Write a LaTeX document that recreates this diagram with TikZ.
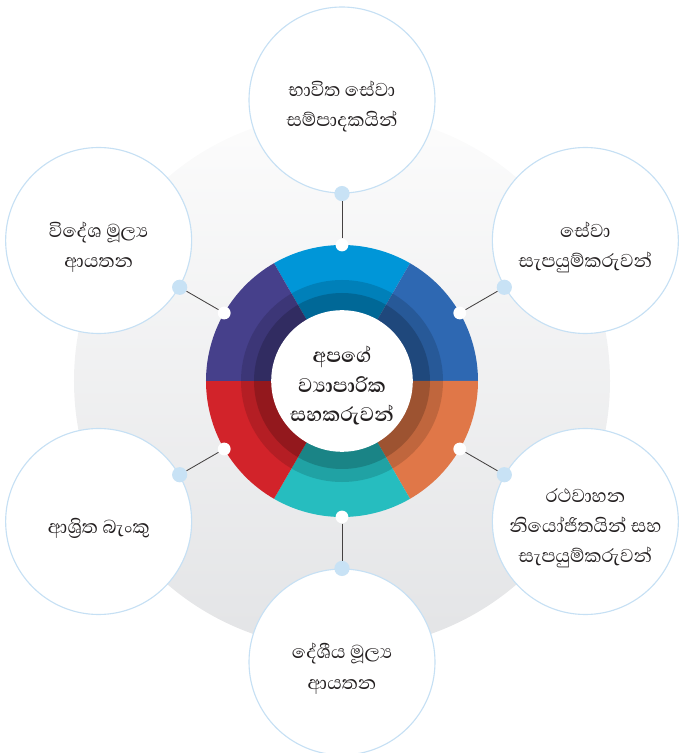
\documentclass[tikz,border=0pt]{standalone}
\usepackage{fontspec}
\newfontfamily\sinhala[Script=Sinhala]{Abhaya Libre}

\definecolor{segceleste}{HTML}{0096D8}
\definecolor{segazul}{HTML}{2E68B2}
\definecolor{segnaranja}{HTML}{E07748}
\definecolor{segturquesa}{HTML}{26BDBF}
\definecolor{segrojo}{HTML}{D2232A}
\definecolor{segmorado}{HTML}{46408B}
\definecolor{bordeazul}{HTML}{C6E0F4}
\definecolor{puntoceleste}{HTML}{C8E2F5}
\definecolor{fondoarriba}{HTML}{FCFCFC}
\definecolor{fondoabajo}{HTML}{E3E4E6}
\definecolor{tinta}{HTML}{231F20}

\begin{document}
\begin{tikzpicture}[
    socio/.style={circle, draw=bordeazul, line width=0.8pt, fill=white,
        minimum size=4.65cm, inner sep=0pt},
    textosocio/.style={align=center, text=tinta,
        font=\sinhala\fontsize{17}{21.5}\selectfont},
    puntoanillo/.style={circle, fill=white, minimum size=0.32cm, inner sep=0pt},
    puntoazul/.style={circle, fill=puntoceleste, minimum size=0.38cm, inner sep=0pt},
    conector/.style={draw=tinta!85, line width=0.6pt}
]

% ================================================================
%  Marco: 679 x 753 px, 1 px = 0.025 cm, origen en el centro del anillo
% ================================================================
\useasboundingbox (-8.55, -9.30) rectangle (8.425, 9.525);
\clip (-8.55, -9.30) rectangle (8.425, 9.525);

% Disco de fondo con degradado
\shade[top color=fondoarriba, bottom color=fondoabajo] (0, 0) circle (6.7);

% ================================================================
%  Circulos exteriores (socios), a 7.025 cm del centro
% ================================================================
\foreach \i/\ang in {1/90, 2/30, 3/-30, 4/-90, 5/-150, 6/150}{
    \node[socio] (s\i) at (\ang:7.025) {};
}

% Textos de cada socio (algo bajo el centro del circulo)
\node[textosocio] (t1) at ([yshift=-0.17cm]s1) {භාවිත සේවා\\සම්පාදකයින්};
\node[textosocio] (t2) at ([yshift=-0.17cm]s2) {සේවා\\සැපයුම්කරුවන්};
\node[textosocio] (t3) at ([yshift=-0.17cm]s3) {රථවාහන\\නියෝජිතයින් සහ\\සැපයුම්කරුවන්};
\node[textosocio] (t4) at ([yshift=-0.17cm]s4) {දේශීය මූල්^^^^200dය\\ආයතන};
\node[textosocio] (t5) at ([yshift=-0.17cm]s5) {ආශ්^^^^200dරිත බැංකු};
\node[textosocio] (t6) at ([yshift=-0.17cm]s6) {විදේශ මූල්^^^^200dය\\ආයතන};

% ================================================================
%  Anillo central — seis sectores de 60 grados, radio 3.4 cm
% ================================================================
\foreach \a/\col in {60/segceleste, 0/segazul, -60/segnaranja,
                     -120/segturquesa, 180/segrojo, 120/segmorado}{
    \fill[\col] (0, 0) -- (\a:3.4) arc[start angle=\a, end angle=\a+60, radius=3.4] -- cycle;
}

% Bandas oscuras interiores
\fill[black, opacity=0.14] (0, 0) circle (2.525);
\fill[black, opacity=0.18] (0, 0) circle (2.2);
\fill[white] (0, 0) circle (1.77);

% Titulo central
\node[font=\sinhala\bfseries\fontsize{18}{20.8}\selectfont, text=tinta, align=center]
    (centro) at (0, -0.12) {අපගේ\\ව්^^^^200dයාපාරික\\සහකරුවන්};

% ================================================================
%  Puntos y conectores
% ================================================================
\foreach \i/\ang in {1/90, 2/30, 3/-30, 4/-90, 5/-150, 6/150}{
    \pgfmathtruncatemacro\opuesto{\ang+180}
    \node[puntoanillo] (r\i) at (\ang:3.4) {};
    \node[puntoazul] (c\i) at (s\i.\opuesto) {};
    \draw[conector] (r\i) -- (c\i);
}

\end{tikzpicture}
\end{document}
